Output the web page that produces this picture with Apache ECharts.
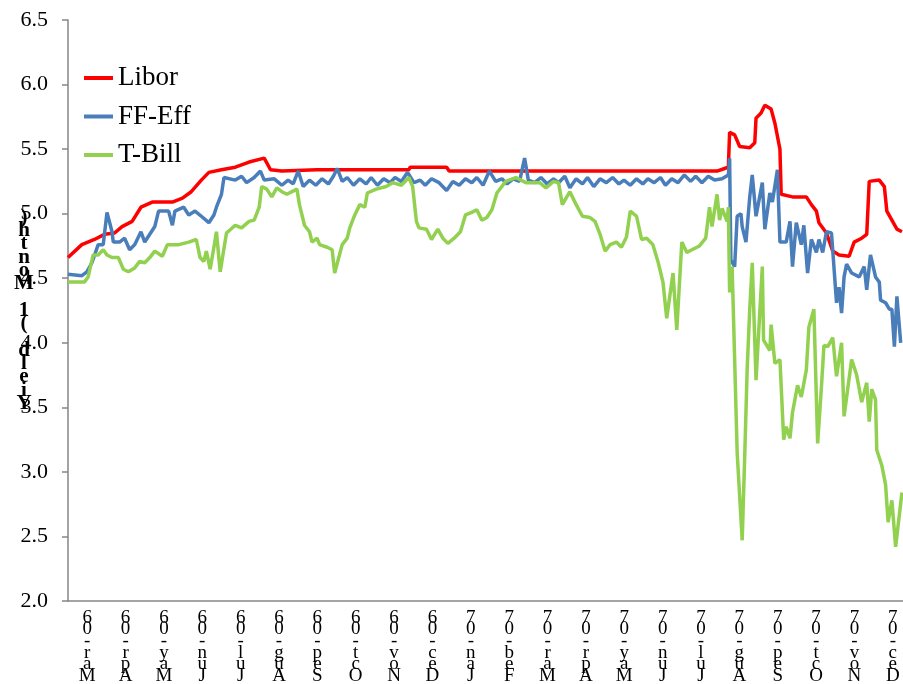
<!DOCTYPE html>
<html>
<head>
<meta charset="utf-8">
<script src="https://cdn.jsdelivr.net/npm/echarts@6/dist/echarts.min.js"></script>
<style>
  html, body { margin: 0; padding: 0; background: #fff; }
  #chart { width: 903px; height: 684px; }
</style>
</head>
<body>
<div id="chart"></div>
<script>
// month labels on the x axis
var monthLabels = ['Mar-06','Apr-06','May-06','Jun-06','Jul-06','Aug-06','Sep-06','Oct-06','Nov-06','Dec-06',
  'Jan-07','Feb-07','Mar-07','Apr-07','May-07','Jun-07','Jul-07','Aug-07','Sep-07','Oct-07','Nov-07','Dec-07'];

var yTitle = 'Yield (1 Month)';

// Libor
var liborDates = ['2006-03-01','2006-03-12','2006-03-22','2006-03-30','2006-04-07','2006-04-13','2006-04-21','2006-04-28',
  '2006-05-07','2006-05-23','2006-05-31','2006-06-07','2006-06-15','2006-06-21','2006-07-01','2006-07-12','2006-07-23',
  '2006-08-04','2006-08-09','2006-08-18','2006-09-15','2006-10-20','2006-11-27','2006-11-28','2006-12-27','2006-12-29',
  '2007-03-15','2007-06-15','2007-07-30','2007-08-05','2007-08-08','2007-08-09','2007-08-13','2007-08-17','2007-08-25',
  '2007-08-29','2007-08-30','2007-09-03','2007-09-06','2007-09-11','2007-09-14','2007-09-18','2007-09-19','2007-09-28',
  '2007-10-09','2007-10-13','2007-10-17','2007-10-19','2007-10-25','2007-10-30','2007-11-04','2007-11-12','2007-11-16',
  '2007-11-22','2007-11-26','2007-11-28','2007-12-06','2007-12-10','2007-12-12','2007-12-16','2007-12-20','2007-12-24'];
var liborValues = [4.66,4.76,4.80,4.84,4.85,4.90,4.94,5.05,
  5.09,5.09,5.12,5.17,5.26,5.32,5.34,5.36,5.40,
  5.43,5.34,5.33,5.34,5.34,5.34,5.36,5.36,5.33,
  5.33,5.33,5.33,5.35,5.36,5.63,5.61,5.52,5.51,
  5.55,5.74,5.78,5.84,5.81,5.70,5.50,5.15,5.13,
  5.13,5.07,5.02,4.93,4.85,4.71,4.68,4.67,4.78,
  4.81,4.84,5.25,5.26,5.21,5.02,4.95,4.88,4.86];

// Fed funds effective
var ffDates = ['2006-03-01','2006-03-12','2006-03-16','2006-03-20','2006-03-25','2006-03-29','2006-04-01','2006-04-05',
  '2006-04-06','2006-04-11','2006-04-15','2006-04-19','2006-04-23','2006-04-28','2006-05-01','2006-05-05','2006-05-09',
  '2006-05-12','2006-05-20','2006-05-23','2006-05-25','2006-06-01','2006-06-05','2006-06-10','2006-06-15','2006-06-21',
  '2006-06-25','2006-06-27','2006-07-01','2006-07-03','2006-07-12','2006-07-17','2006-07-21','2006-07-27','2006-08-01',
  '2006-08-04','2006-08-12','2006-08-18','2006-08-23','2006-08-27','2006-08-31','2006-09-04','2006-09-09','2006-09-14',
  '2006-09-19','2006-09-24','2006-09-28','2006-10-01','2006-10-05','2006-10-09','2006-10-14','2006-10-19','2006-10-24',
  '2006-10-28','2006-11-02','2006-11-07','2006-11-12','2006-11-16','2006-11-21','2006-11-26','2006-12-01','2006-12-06',
  '2006-12-10','2006-12-15','2006-12-21','2006-12-27','2007-01-01','2007-01-06','2007-01-11','2007-01-16','2007-01-20',
  '2007-01-25','2007-01-30','2007-02-04','2007-02-09','2007-02-13','2007-02-18','2007-02-23','2007-02-27','2007-03-02',
  '2007-03-07','2007-03-12','2007-03-17','2007-03-22','2007-03-26','2007-03-31','2007-04-04','2007-04-09','2007-04-14',
  '2007-04-18','2007-04-23','2007-04-28','2007-05-03','2007-05-08','2007-05-13','2007-05-17','2007-05-22','2007-05-27',
  '2007-06-01','2007-06-05','2007-06-10','2007-06-15','2007-06-19','2007-06-24','2007-06-29','2007-07-04','2007-07-09',
  '2007-07-13','2007-07-18','2007-07-23','2007-07-28','2007-08-03','2007-08-08','2007-08-09','2007-08-10','2007-08-13',
  '2007-08-15','2007-08-18','2007-08-19','2007-08-22','2007-08-25','2007-08-27','2007-08-30','2007-09-04','2007-09-06',
  '2007-09-10','2007-09-12','2007-09-16','2007-09-18','2007-09-23','2007-09-26','2007-09-28','2007-10-01','2007-10-05',
  '2007-10-07','2007-10-10','2007-10-13','2007-10-17','2007-10-19','2007-10-22','2007-10-25','2007-10-29','2007-11-02',
  '2007-11-04','2007-11-06','2007-11-08','2007-11-10','2007-11-14','2007-11-20','2007-11-24','2007-11-26','2007-11-29',
  '2007-12-03','2007-12-06','2007-12-07','2007-12-11','2007-12-14','2007-12-16','2007-12-18','2007-12-20','2007-12-23'];
var ffValues = [4.53,4.52,4.55,4.62,4.76,4.76,5.01,4.86,
  4.78,4.78,4.81,4.72,4.76,4.86,4.78,4.84,4.90,
  5.02,5.02,4.91,5.02,5.05,4.99,5.02,4.98,4.93,
  4.99,5.05,5.15,5.28,5.26,5.29,5.24,5.28,5.33,
  5.26,5.27,5.22,5.26,5.23,5.33,5.21,5.26,5.22,
  5.27,5.23,5.29,5.35,5.25,5.28,5.22,5.27,5.23,
  5.28,5.22,5.27,5.24,5.28,5.25,5.32,5.24,5.26,
  5.22,5.27,5.24,5.18,5.25,5.22,5.27,5.24,5.28,
  5.22,5.33,5.25,5.27,5.23,5.27,5.25,5.43,5.26,
  5.24,5.28,5.23,5.27,5.24,5.29,5.20,5.27,5.23,
  5.28,5.21,5.27,5.24,5.28,5.23,5.26,5.22,5.27,
  5.23,5.27,5.24,5.28,5.22,5.27,5.24,5.30,5.25,
  5.29,5.24,5.29,5.26,5.27,5.30,5.43,4.64,4.59,
  4.98,5.00,4.90,4.78,5.13,5.30,4.98,5.24,4.88,
  5.16,5.09,5.34,4.78,4.78,4.94,4.59,4.93,4.76,
  4.91,4.54,4.80,4.70,4.80,4.70,4.86,4.85,4.31,
  4.43,4.23,4.51,4.61,4.54,4.51,4.59,4.41,4.68,
  4.51,4.47,4.33,4.31,4.26,4.26,3.97,4.36,4.00];

// 1-month T-Bill
var tbillDates = ['2006-03-01','2006-03-14','2006-03-17','2006-03-21','2006-03-25','2006-03-29','2006-04-01','2006-04-05',
  '2006-04-10','2006-04-14','2006-04-18','2006-04-23','2006-04-27','2006-05-01','2006-05-05','2006-05-09','2006-05-15',
  '2006-05-19','2006-05-28','2006-06-05','2006-06-11','2006-06-14','2006-06-17','2006-06-19','2006-06-22','2006-06-25',
  '2006-06-27','2006-06-30','2006-07-03','2006-07-05','2006-07-12','2006-07-17','2006-07-23','2006-07-27','2006-07-31',
  '2006-08-02','2006-08-06','2006-08-10','2006-08-14','2006-08-18','2006-08-22','2006-08-30','2006-09-01','2006-09-05',
  '2006-09-09','2006-09-11','2006-09-15','2006-09-17','2006-09-23','2006-09-27','2006-09-29','2006-10-05','2006-10-09',
  '2006-10-11','2006-10-15','2006-10-19','2006-10-23','2006-10-25','2006-11-01','2006-11-09','2006-11-14','2006-11-21',
  '2006-11-27','2006-11-30','2006-12-03','2006-12-05','2006-12-11','2006-12-15','2006-12-20','2006-12-24','2006-12-28',
  '2007-01-02','2007-01-07','2007-01-11','2007-01-16','2007-01-20','2007-01-24','2007-01-28','2007-02-01','2007-02-05',
  '2007-02-12','2007-02-20','2007-02-28','2007-03-11','2007-03-16','2007-03-22','2007-03-26','2007-03-29','2007-04-04',
  '2007-04-09','2007-04-14','2007-04-20','2007-04-24','2007-04-28','2007-05-02','2007-05-06','2007-05-11','2007-05-15',
  '2007-05-19','2007-05-22','2007-05-27','2007-05-31','2007-06-04','2007-06-09','2007-06-13','2007-06-17','2007-06-20',
  '2007-06-25','2007-06-28','2007-07-02','2007-07-06','2007-07-10','2007-07-16','2007-07-21','2007-07-24','2007-07-26',
  '2007-07-30','2007-08-01','2007-08-03','2007-08-07','2007-08-08','2007-08-09','2007-08-11','2007-08-15','2007-08-19',
  '2007-08-21','2007-08-23','2007-08-25','2007-08-27','2007-08-30','2007-09-04','2007-09-05','2007-09-10','2007-09-11',
  '2007-09-14','2007-09-18','2007-09-21','2007-09-23','2007-09-26','2007-09-28','2007-10-02','2007-10-05','2007-10-09',
  '2007-10-11','2007-10-15','2007-10-18','2007-10-21','2007-10-23','2007-10-26','2007-10-30','2007-11-02','2007-11-06',
  '2007-11-08','2007-11-14','2007-11-18','2007-11-22','2007-11-26','2007-11-28','2007-11-30','2007-12-03','2007-12-04',
  '2007-12-08','2007-12-11','2007-12-13','2007-12-16','2007-12-19','2007-12-24'];
var tbillValues = [4.47,4.47,4.51,4.68,4.68,4.72,4.68,4.66,
  4.66,4.57,4.55,4.58,4.63,4.62,4.66,4.71,4.67,
  4.76,4.76,4.78,4.80,4.66,4.63,4.71,4.57,4.74,
  4.86,4.55,4.73,4.85,4.91,4.89,4.94,4.95,5.05,
  5.21,5.19,5.13,5.20,5.17,5.15,5.19,5.07,4.91,
  4.86,4.78,4.81,4.76,4.74,4.72,4.54,4.76,4.81,
  4.89,4.99,5.07,5.05,5.16,5.19,5.21,5.24,5.22,
  5.28,5.21,4.94,4.89,4.88,4.80,4.88,4.81,4.77,
  4.81,4.86,4.99,5.01,5.03,4.95,4.97,5.03,5.16,
  5.25,5.28,5.24,5.24,5.20,5.25,5.24,5.07,5.17,
  5.07,4.98,4.97,4.94,4.84,4.71,4.76,4.78,4.74,
  4.82,5.02,4.98,4.80,4.81,4.76,4.63,4.47,4.19,
  4.54,4.10,4.78,4.70,4.72,4.75,4.81,5.05,4.90,
  5.15,4.95,5.04,4.94,5.05,4.39,4.59,3.15,2.47,
  3.12,3.81,4.26,4.62,3.71,4.59,4.02,3.94,4.14,
  3.84,3.87,3.25,3.35,3.26,3.46,3.67,3.58,3.79,
  4.12,4.26,3.22,3.66,3.98,3.97,4.04,3.74,4.00,
  3.43,3.87,3.75,3.54,3.69,3.39,3.64,3.56,3.17,
  3.05,2.90,2.61,2.78,2.42,2.84];

function pairs(dates, vals) {
  return dates.map(function (d, i) { return [d, vals[i]]; });
}
function stack(s) {
  return s.split('').reverse().join('\n');
}

var serif = "'Liberation Serif', 'Times New Roman', serif";
var axisGray = '#868686';

var chart = echarts.init(document.getElementById('chart'));

var option = {
  animation: false,
  backgroundColor: '#fff',
  grid: { left: 68, top: 20, right: -9, bottom: 83, containLabel: false, outerBoundsMode: 'none' },
  legend: {
    data: ['Libor', 'FF-Eff', 'T-Bill'],
    orient: 'vertical',
    left: 84,
    top: 63,
    padding: 0,
    icon: 'rect',
    itemWidth: 29,
    itemHeight: 4,
    itemGap: 8.5,
    textStyle: { fontFamily: serif, fontSize: 27, color: '#000', lineHeight: 30 }
  },
  xAxis: [
    {
      type: 'category',
      data: monthLabels,
      boundaryGap: true,
      axisLine: { lineStyle: { color: axisGray, width: 1.5 } },
      axisTick: { alignWithLabel: false, length: 6, lineStyle: { color: axisGray, width: 1.5 } },
      axisLabel: {
        interval: 0,
        margin: 11,
        fontFamily: serif,
        fontSize: 19,
        lineHeight: 11.6,
        color: '#000',
        verticalAlign: 'top',
        formatter: function (v) { return stack(v); }
      },
      splitLine: { show: false }
    },
    {
      type: 'time',
      min: '2006-03-01',
      max: '2008-01-01',
      show: false,
      splitLine: { show: false }
    }
  ],
  yAxis: {
    type: 'value',
    min: 2,
    max: 6.5,
    interval: 0.5,
    name: stack(yTitle),
    nameLocation: 'middle',
    nameGap: 44,
    nameRotate: 0,
    nameMoveOverlap: false,
    nameTextStyle: {
      fontFamily: serif, fontWeight: 'bold', fontSize: 21, lineHeight: 13.3,
      color: '#000', align: 'center', verticalAlign: 'middle'
    },
    axisLine: { show: true, lineStyle: { color: axisGray, width: 1.5 } },
    axisTick: { show: true, length: 6, lineStyle: { color: axisGray, width: 1.5 } },
    axisLabel: {
      margin: 20,
      fontFamily: serif,
      fontSize: 22,
      color: '#000',
      formatter: function (v) { return v.toFixed(1); }
    },
    splitLine: { show: false }
  },
  series: [
    {
      name: 'Libor', type: 'line', xAxisIndex: 1, symbol: 'none',
      color: '#FF0000', lineStyle: { width: 3.5, color: '#FF0000' },
      data: pairs(liborDates, liborValues)
    },
    {
      name: 'FF-Eff', type: 'line', xAxisIndex: 1, symbol: 'none',
      color: '#4A7EBB', lineStyle: { width: 3.5, color: '#4A7EBB' },
      data: pairs(ffDates, ffValues)
    },
    {
      name: 'T-Bill', type: 'line', xAxisIndex: 1, symbol: 'none',
      color: '#92D050', lineStyle: { width: 3.5, color: '#92D050' },
      data: pairs(tbillDates, tbillValues)
    }
  ]
};

chart.setOption(option);
</script>
</body>
</html>
